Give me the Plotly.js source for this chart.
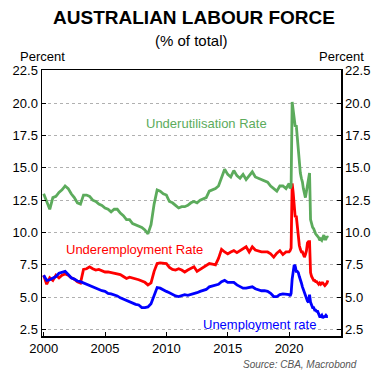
<!DOCTYPE html>
<html>
<head>
<meta charset="utf-8">
<script src="https://cdn.plot.ly/plotly-3.0.1.min.js"></script>
<style>html,body{margin:0;padding:0;background:#fff;}#chart{width:388px;height:385px;}</style>
</head>
<body>
<div id="chart"></div>
<script>
// Dates: quarterly 2000-2019, then monthly 2020-01 .. 2023-03
const dates = [
 "2000-01","2000-04","2000-07","2000-10","2001-01","2001-04","2001-07","2001-10",
 "2002-01","2002-04","2002-07","2002-10","2003-01","2003-04","2003-07","2003-10",
 "2004-01","2004-04","2004-07","2004-10","2005-01","2005-04","2005-07","2005-10",
 "2006-01","2006-04","2006-07","2006-10","2007-01","2007-04","2007-07","2007-10",
 "2008-01","2008-04","2008-07","2008-10","2009-01","2009-04","2009-07","2009-10",
 "2010-01","2010-04","2010-07","2010-10","2011-01","2011-04","2011-07","2011-10",
 "2012-01","2012-04","2012-07","2012-10","2013-01","2013-04","2013-07","2013-10",
 "2014-01","2014-04","2014-07","2014-10","2015-01","2015-04","2015-07","2015-10",
 "2016-01","2016-04","2016-07","2016-10","2017-01","2017-04","2017-07","2017-10",
 "2018-01","2018-04","2018-07","2018-10","2019-01","2019-04","2019-07","2019-10",
 "2020-01","2020-02","2020-03","2020-04","2020-05","2020-06","2020-07","2020-08","2020-09","2020-10","2020-11","2020-12",
 "2021-01","2021-02","2021-03","2021-04","2021-05","2021-06","2021-07","2021-08","2021-09","2021-10","2021-11","2021-12",
 "2022-01","2022-02","2022-03","2022-04","2022-05","2022-06","2022-07","2022-08","2022-09","2022-10","2022-11","2022-12",
 "2023-01","2023-02","2023-03"
];

const underutilisation = [
 13.0,12.4,11.8,12.7, 12.8,13.1,13.3,13.6, 13.4,13.0,12.7,12.3, 12.2,12.9,12.9,12.8,
 12.5,12.4,12.2,12.1, 11.9,11.8,11.6,11.8, 11.8,11.5,11.3,11.0, 11.0,10.7,10.6,10.5,
 10.4,10.2,9.9,10.6, 12.2,13.3,13.2,13.0, 12.9,12.4,12.3,12.1, 11.9,12.0,12.0,12.1,
 12.3,12.4,12.3,12.5, 12.6,12.7,13.2,13.3, 13.4,13.6,14.3,14.9, 14.5,14.3,14.8,14.4,
 14.2,14.5,14.1,14.4, 14.7,14.3,14.2,14.1, 14.0,13.9,13.6,13.4, 13.2,13.6,13.6,13.4,
 13.8,13.4,13.6,20.1,19.6,18.8,18.2,18.3,17.2,16.2,15.2,14.6,
 14.2,13.9,13.4,13.0,12.7,13.2,13.8,14.2,14.6,11.0,10.6,10.4,
 10.3,10.0,9.9,9.8,9.7,9.6,9.4,9.5,9.4,9.6,9.8,9.5,
 9.5,9.7,9.6
];

const underemployment = [
 6.7,6.0,6.5,6.3, 6.7,6.5,6.7,6.8, 6.7,6.5,6.4,6.2, 6.1,7.15,7.2,7.35,
 7.2,7.1,7.15,7.05, 6.95,6.95,6.9,6.8, 6.8,6.75,6.6,6.45, 6.55,6.5,6.4,6.35,
 6.25,6.15,5.95,6.1, 7.0,7.6,7.65,7.6, 7.6,7.3,7.15,7.1, 7.2,7.1,6.95,7.1,
 7.25,7.35,7.0,7.15, 7.25,7.45,7.6,7.55, 7.5,8.0,8.7,8.5, 8.35,8.5,8.6,8.45,
 8.6,8.75,8.9,8.5, 8.9,8.65,8.55,8.5, 8.5,8.5,8.35,8.1, 8.4,8.6,8.3,8.5,
 8.5,8.6,8.8,13.8,13.1,11.7,11.2,11.3,10.4,9.5,9.0,8.7,
 8.5,8.5,8.2,8.1,8.3,8.6,9.2,9.3,9.3,6.9,6.6,6.4,
 6.3,6.3,6.2,6.2,6.1,6.0,6.1,6.0,6.1,6.1,6.0,5.9,
 6.0,6.1,6.3
];

const unemployment = [
 6.7,6.3,6.35,6.5, 6.6,6.85,6.9,7.0, 6.75,6.5,6.4,6.25, 6.2,6.1,5.95,5.85,
 5.75,5.65,5.55,5.5, 5.45,5.3,5.25,5.2, 5.1,4.95,4.85,4.7, 4.65,4.5,4.45,4.4,
 4.2,4.2,4.25,4.5, 5.2,5.75,5.7,5.55, 5.45,5.35,5.2,5.1, 5.05,5.15,5.2,5.15,
 5.2,5.3,5.35,5.45, 5.5,5.6,5.8,5.85, 5.9,6.0,6.2,6.3, 6.15,6.15,6.15,5.95,
 5.85,5.7,5.7,5.75, 5.8,5.65,5.55,5.5, 5.5,5.45,5.3,5.05, 5.05,5.2,5.25,5.2,
 5.2,5.1,5.3,6.4,7.1,7.5,7.4,7.0,7.0,6.9,6.6,6.4,
 6.1,5.8,5.6,5.3,5.1,4.9,4.7,4.6,5.2,4.6,4.4,4.2,
 4.2,4.0,4.0,3.9,3.9,3.6,3.5,3.5,3.6,3.4,3.5,3.5,
 3.6,3.5,3.5
];

const seriesNames = ["Underutilisation Rate", "Underemployment Rate", "Unemployment rate"];
const seriesColors = ["#5cab5c", "#ff0000", "#0000ff"];
const yTicks = [2.5, 5, 7.5, 10, 12.5, 15, 17.5, 20, 22.5];
const yTickText = ["2.5", "5.0", "7.5", "10.0", "12.5", "15.0", "17.5", "20.0", "22.5"];
const xTicks = ["2000-01-01", "2005-01-01", "2010-01-01", "2015-01-01", "2020-01-01"];
const xTickText = ["2000", "2005", "2010", "2015", "2020"];

const FONT = "Liberation Sans, Arial, sans-serif";

// green series is drawn against the right-hand axis (identical scale) so that axis is rendered
const axisFor = ["y2", "y", "y"];
const traces = [underutilisation, underemployment, unemployment].map((vals, i) => ({
  x: dates, y: vals, type: "scatter", mode: "lines", name: seriesNames[i], yaxis: axisFor[i],
  line: {color: seriesColors[i], width: 2.8}, showlegend: false, hoverinfo: "skip"
}));

const yRange = [2.0, 22.57];

const layout = {
  width: 388, height: 385,
  margin: {l: 42, r: 47, t: 70, b: 49},
  paper_bgcolor: "#fff", plot_bgcolor: "#fff",
  font: {family: FONT, size: 13, color: "#000"},
  title: {text: "<b>AUSTRALIAN LABOUR FORCE</b>", x: 0.5, xanchor: "center", y: 0.955, yanchor: "middle",
          font: {family: FONT, size: 19, color: "#000"}},
  xaxis: {
    type: "date", range: ["1999-11-13", "2024-03-25"],
    tickvals: xTicks, ticktext: xTickText,
    ticks: "inside", ticklen: 4, tickcolor: "#000", tickwidth: 1,
    showline: true, linecolor: "#000", linewidth: 1.5, mirror: true,
    showgrid: false, zeroline: false,
    tickfont: {family: FONT, size: 13, color: "#000"}
  },
  yaxis: {
    range: yRange, tickvals: yTicks, ticktext: yTickText,
    ticks: "inside", ticklen: 4, tickcolor: "#000",
    showline: true, linecolor: "#000", linewidth: 1.5,
    showgrid: true, gridcolor: "#b0b0b0", griddash: "dot", gridwidth: 1,
    zeroline: false,
    tickfont: {family: FONT, size: 13, color: "#000"}
  },
  yaxis2: {
    range: yRange, tickvals: yTicks, ticktext: yTickText,
    overlaying: "y", side: "right", anchor: "x",
    ticks: "inside", ticklen: 4, tickcolor: "#000",
    showline: true, linecolor: "#000", linewidth: 1.5,
    showgrid: false, zeroline: false,
    tickfont: {family: FONT, size: 13, color: "#000"}
  },
  annotations: [
    {text: "(% of total)", xref: "paper", yref: "paper", x: 0.5, y: 1.112, xanchor: "center", yanchor: "middle",
     showarrow: false, font: {family: FONT, size: 15, color: "#000"}},
    {text: "Percent", xref: "paper", yref: "paper", x: 0.0, y: 1.0, yshift: 4, xanchor: "center", yanchor: "bottom",
     showarrow: false, font: {family: FONT, size: 13, color: "#000"}},
    {text: "Percent", xref: "paper", yref: "paper", x: 1.0, y: 1.0, yshift: 4, xanchor: "center", yanchor: "bottom",
     showarrow: false, font: {family: FONT, size: 13, color: "#000"}},
    {text: "Underutilisation Rate", xref: "x", yref: "y", x: "2013-04-15", y: 18.4, xanchor: "center", yanchor: "middle",
     showarrow: false, font: {family: FONT, size: 13, color: seriesColors[0]}},
    {text: "Underemployment Rate", xref: "x", yref: "y", x: "2007-06-01", y: 8.66, xanchor: "center", yanchor: "middle",
     showarrow: false, font: {family: FONT, size: 13, color: seriesColors[1]}},
    {text: "Unemployment rate", xref: "x", yref: "y", x: "2017-08-01", y: 2.86, xanchor: "center", yanchor: "middle",
     showarrow: false, font: {family: FONT, size: 13, color: seriesColors[2]}},
    {text: "<i>Source: CBA, Macrobond</i>", xref: "paper", yref: "paper", x: 1.06, y: -0.108, xanchor: "right", yanchor: "middle",
     showarrow: false, font: {family: FONT, size: 10, color: "#555"}}
  ]
};

Plotly.newPlot("chart", traces, layout, {staticPlot: true, displayModeBar: false});
</script>
</body>
</html>
